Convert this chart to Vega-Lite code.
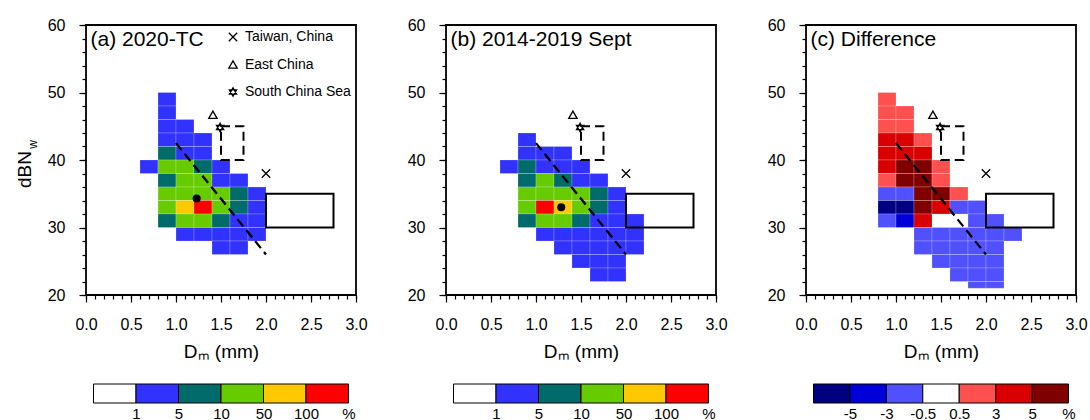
{
  "$schema": "https://vega.github.io/schema/vega-lite/v6.json",
  "background": "white",
  "padding": {"left": 14, "top": 16, "right": 0, "bottom": 0},
  "config": {
    "font": "Liberation Sans",
    "view": {"stroke": "black", "strokeWidth": 1.8},
    "axis": {"grid": false, "domain": false, "tickColor": "black", "tickWidth": 1.2, "labelColor": "black", "titleColor": "black", "labelFont": "Liberation Sans", "titleFont": "Liberation Sans", "labelFontSize": 16, "titleFontSize": 19, "titleFontWeight": "normal", "labelFlush": false, "labelOverlap": false},
    "text": {"font": "Liberation Sans", "color": "black"}
  },
  "datasets": {
    "a": [
      {"dm0":0.8,"dm1":1.0,"db0":48,"db1":50,"pct":3},
      {"dm0":0.8,"dm1":1.0,"db0":46,"db1":48,"pct":3},
      {"dm0":0.8,"dm1":1.0,"db0":44,"db1":46,"pct":3},
      {"dm0":1.0,"dm1":1.2,"db0":44,"db1":46,"pct":3},
      {"dm0":0.8,"dm1":1.0,"db0":42,"db1":44,"pct":3},
      {"dm0":1.0,"dm1":1.2,"db0":42,"db1":44,"pct":3},
      {"dm0":1.2,"dm1":1.4,"db0":42,"db1":44,"pct":3},
      {"dm0":0.8,"dm1":1.0,"db0":40,"db1":42,"pct":7},
      {"dm0":1.0,"dm1":1.2,"db0":40,"db1":42,"pct":3},
      {"dm0":1.2,"dm1":1.4,"db0":40,"db1":42,"pct":3},
      {"dm0":0.6,"dm1":0.8,"db0":38,"db1":40,"pct":3},
      {"dm0":0.8,"dm1":1.0,"db0":38,"db1":40,"pct":25},
      {"dm0":1.0,"dm1":1.2,"db0":38,"db1":40,"pct":25},
      {"dm0":1.2,"dm1":1.4,"db0":38,"db1":40,"pct":7},
      {"dm0":1.4,"dm1":1.6,"db0":38,"db1":40,"pct":3},
      {"dm0":0.8,"dm1":1.0,"db0":36,"db1":38,"pct":7},
      {"dm0":1.0,"dm1":1.2,"db0":36,"db1":38,"pct":25},
      {"dm0":1.2,"dm1":1.4,"db0":36,"db1":38,"pct":25},
      {"dm0":1.4,"dm1":1.6,"db0":36,"db1":38,"pct":3},
      {"dm0":1.6,"dm1":1.8,"db0":36,"db1":38,"pct":3},
      {"dm0":0.8,"dm1":1.0,"db0":34,"db1":36,"pct":25},
      {"dm0":1.0,"dm1":1.2,"db0":34,"db1":36,"pct":25},
      {"dm0":1.2,"dm1":1.4,"db0":34,"db1":36,"pct":25},
      {"dm0":1.4,"dm1":1.6,"db0":34,"db1":36,"pct":25},
      {"dm0":1.6,"dm1":1.8,"db0":34,"db1":36,"pct":7},
      {"dm0":1.8,"dm1":2.0,"db0":34,"db1":36,"pct":3},
      {"dm0":0.8,"dm1":1.0,"db0":32,"db1":34,"pct":25},
      {"dm0":1.0,"dm1":1.2,"db0":32,"db1":34,"pct":70},
      {"dm0":1.2,"dm1":1.4,"db0":32,"db1":34,"pct":120},
      {"dm0":1.4,"dm1":1.6,"db0":32,"db1":34,"pct":25},
      {"dm0":1.6,"dm1":1.8,"db0":32,"db1":34,"pct":7},
      {"dm0":1.8,"dm1":2.0,"db0":32,"db1":34,"pct":3},
      {"dm0":0.8,"dm1":1.0,"db0":30,"db1":32,"pct":7},
      {"dm0":1.0,"dm1":1.2,"db0":30,"db1":32,"pct":25},
      {"dm0":1.2,"dm1":1.4,"db0":30,"db1":32,"pct":25},
      {"dm0":1.4,"dm1":1.6,"db0":30,"db1":32,"pct":7},
      {"dm0":1.6,"dm1":1.8,"db0":30,"db1":32,"pct":3},
      {"dm0":1.8,"dm1":2.0,"db0":30,"db1":32,"pct":3},
      {"dm0":1.0,"dm1":1.2,"db0":28,"db1":30,"pct":3},
      {"dm0":1.2,"dm1":1.4,"db0":28,"db1":30,"pct":3},
      {"dm0":1.4,"dm1":1.6,"db0":28,"db1":30,"pct":3},
      {"dm0":1.6,"dm1":1.8,"db0":28,"db1":30,"pct":3},
      {"dm0":1.8,"dm1":2.0,"db0":28,"db1":30,"pct":3},
      {"dm0":1.4,"dm1":1.6,"db0":26,"db1":28,"pct":3},
      {"dm0":1.6,"dm1":1.8,"db0":26,"db1":28,"pct":3}
    ],
    "b": [
      {"dm0":0.8,"dm1":1.0,"db0":42,"db1":44,"pct":3},
      {"dm0":0.8,"dm1":1.0,"db0":40,"db1":42,"pct":3},
      {"dm0":1.0,"dm1":1.2,"db0":40,"db1":42,"pct":3},
      {"dm0":1.2,"dm1":1.4,"db0":40,"db1":42,"pct":3},
      {"dm0":0.6,"dm1":0.8,"db0":38,"db1":40,"pct":3},
      {"dm0":0.8,"dm1":1.0,"db0":38,"db1":40,"pct":7},
      {"dm0":1.0,"dm1":1.2,"db0":38,"db1":40,"pct":3},
      {"dm0":1.2,"dm1":1.4,"db0":38,"db1":40,"pct":3},
      {"dm0":1.4,"dm1":1.6,"db0":38,"db1":40,"pct":3},
      {"dm0":0.8,"dm1":1.0,"db0":36,"db1":38,"pct":7},
      {"dm0":1.0,"dm1":1.2,"db0":36,"db1":38,"pct":25},
      {"dm0":1.2,"dm1":1.4,"db0":36,"db1":38,"pct":7},
      {"dm0":1.4,"dm1":1.6,"db0":36,"db1":38,"pct":3},
      {"dm0":1.6,"dm1":1.8,"db0":36,"db1":38,"pct":3},
      {"dm0":0.8,"dm1":1.0,"db0":34,"db1":36,"pct":25},
      {"dm0":1.0,"dm1":1.2,"db0":34,"db1":36,"pct":25},
      {"dm0":1.2,"dm1":1.4,"db0":34,"db1":36,"pct":25},
      {"dm0":1.4,"dm1":1.6,"db0":34,"db1":36,"pct":25},
      {"dm0":1.6,"dm1":1.8,"db0":34,"db1":36,"pct":7},
      {"dm0":1.8,"dm1":2.0,"db0":34,"db1":36,"pct":3},
      {"dm0":0.8,"dm1":1.0,"db0":32,"db1":34,"pct":25},
      {"dm0":1.0,"dm1":1.2,"db0":32,"db1":34,"pct":120},
      {"dm0":1.2,"dm1":1.4,"db0":32,"db1":34,"pct":70},
      {"dm0":1.4,"dm1":1.6,"db0":32,"db1":34,"pct":25},
      {"dm0":1.6,"dm1":1.8,"db0":32,"db1":34,"pct":7},
      {"dm0":1.8,"dm1":2.0,"db0":32,"db1":34,"pct":3},
      {"dm0":0.8,"dm1":1.0,"db0":30,"db1":32,"pct":7},
      {"dm0":1.0,"dm1":1.2,"db0":30,"db1":32,"pct":25},
      {"dm0":1.2,"dm1":1.4,"db0":30,"db1":32,"pct":25},
      {"dm0":1.4,"dm1":1.6,"db0":30,"db1":32,"pct":7},
      {"dm0":1.6,"dm1":1.8,"db0":30,"db1":32,"pct":3},
      {"dm0":1.8,"dm1":2.0,"db0":30,"db1":32,"pct":3},
      {"dm0":2.0,"dm1":2.2,"db0":30,"db1":32,"pct":3},
      {"dm0":1.0,"dm1":1.2,"db0":28,"db1":30,"pct":3},
      {"dm0":1.2,"dm1":1.4,"db0":28,"db1":30,"pct":3},
      {"dm0":1.4,"dm1":1.6,"db0":28,"db1":30,"pct":3},
      {"dm0":1.6,"dm1":1.8,"db0":28,"db1":30,"pct":3},
      {"dm0":1.8,"dm1":2.0,"db0":28,"db1":30,"pct":3},
      {"dm0":2.0,"dm1":2.2,"db0":28,"db1":30,"pct":3},
      {"dm0":1.2,"dm1":1.4,"db0":26,"db1":28,"pct":3},
      {"dm0":1.4,"dm1":1.6,"db0":26,"db1":28,"pct":3},
      {"dm0":1.6,"dm1":1.8,"db0":26,"db1":28,"pct":3},
      {"dm0":1.8,"dm1":2.0,"db0":26,"db1":28,"pct":3},
      {"dm0":2.0,"dm1":2.2,"db0":26,"db1":28,"pct":3},
      {"dm0":1.4,"dm1":1.6,"db0":24,"db1":26,"pct":3},
      {"dm0":1.6,"dm1":1.8,"db0":24,"db1":26,"pct":3},
      {"dm0":1.8,"dm1":2.0,"db0":24,"db1":26,"pct":3},
      {"dm0":1.6,"dm1":1.8,"db0":22,"db1":24,"pct":3},
      {"dm0":1.8,"dm1":2.0,"db0":22,"db1":24,"pct":3}
    ],
    "c": [
      {"dm0":0.8,"dm1":1.0,"db0":48,"db1":50,"pct":1.5},
      {"dm0":0.8,"dm1":1.0,"db0":46,"db1":48,"pct":1.5},
      {"dm0":1.0,"dm1":1.2,"db0":46,"db1":48,"pct":1.5},
      {"dm0":0.8,"dm1":1.0,"db0":44,"db1":46,"pct":1.5},
      {"dm0":1.0,"dm1":1.2,"db0":44,"db1":46,"pct":1.5},
      {"dm0":0.8,"dm1":1.0,"db0":42,"db1":44,"pct":4},
      {"dm0":1.0,"dm1":1.2,"db0":42,"db1":44,"pct":4},
      {"dm0":1.2,"dm1":1.4,"db0":42,"db1":44,"pct":1.5},
      {"dm0":0.8,"dm1":1.0,"db0":40,"db1":42,"pct":4},
      {"dm0":1.0,"dm1":1.2,"db0":40,"db1":42,"pct":4},
      {"dm0":1.2,"dm1":1.4,"db0":40,"db1":42,"pct":4},
      {"dm0":0.8,"dm1":1.0,"db0":38,"db1":40,"pct":4},
      {"dm0":1.0,"dm1":1.2,"db0":38,"db1":40,"pct":6},
      {"dm0":1.2,"dm1":1.4,"db0":38,"db1":40,"pct":6},
      {"dm0":1.4,"dm1":1.6,"db0":38,"db1":40,"pct":1.5},
      {"dm0":0.8,"dm1":1.0,"db0":36,"db1":38,"pct":1.5},
      {"dm0":1.0,"dm1":1.2,"db0":36,"db1":38,"pct":6},
      {"dm0":1.2,"dm1":1.4,"db0":36,"db1":38,"pct":6},
      {"dm0":1.4,"dm1":1.6,"db0":36,"db1":38,"pct":1.5},
      {"dm0":0.8,"dm1":1.0,"db0":34,"db1":36,"pct":-1.5},
      {"dm0":1.0,"dm1":1.2,"db0":34,"db1":36,"pct":-1.5},
      {"dm0":1.2,"dm1":1.4,"db0":34,"db1":36,"pct":6},
      {"dm0":1.4,"dm1":1.6,"db0":34,"db1":36,"pct":6},
      {"dm0":1.6,"dm1":1.8,"db0":34,"db1":36,"pct":1.5},
      {"dm0":0.8,"dm1":1.0,"db0":32,"db1":34,"pct":-6},
      {"dm0":1.0,"dm1":1.2,"db0":32,"db1":34,"pct":-6},
      {"dm0":1.2,"dm1":1.4,"db0":32,"db1":34,"pct":6},
      {"dm0":1.4,"dm1":1.6,"db0":32,"db1":34,"pct":4},
      {"dm0":1.6,"dm1":1.8,"db0":32,"db1":34,"pct":-1.5},
      {"dm0":1.8,"dm1":2.0,"db0":32,"db1":34,"pct":-1.5},
      {"dm0":0.8,"dm1":1.0,"db0":30,"db1":32,"pct":-1.5},
      {"dm0":1.0,"dm1":1.2,"db0":30,"db1":32,"pct":-4},
      {"dm0":1.2,"dm1":1.4,"db0":30,"db1":32,"pct":4},
      {"dm0":1.8,"dm1":2.0,"db0":30,"db1":32,"pct":-1.5},
      {"dm0":2.0,"dm1":2.2,"db0":30,"db1":32,"pct":-1.5},
      {"dm0":1.2,"dm1":1.4,"db0":28,"db1":30,"pct":-1.5},
      {"dm0":1.4,"dm1":1.6,"db0":28,"db1":30,"pct":-1.5},
      {"dm0":1.6,"dm1":1.8,"db0":28,"db1":30,"pct":-1.5},
      {"dm0":1.8,"dm1":2.0,"db0":28,"db1":30,"pct":-1.5},
      {"dm0":2.0,"dm1":2.2,"db0":28,"db1":30,"pct":-1.5},
      {"dm0":2.2,"dm1":2.4,"db0":28,"db1":30,"pct":-1.5},
      {"dm0":1.2,"dm1":1.4,"db0":26,"db1":28,"pct":-1.5},
      {"dm0":1.4,"dm1":1.6,"db0":26,"db1":28,"pct":-1.5},
      {"dm0":1.6,"dm1":1.8,"db0":26,"db1":28,"pct":-1.5},
      {"dm0":1.8,"dm1":2.0,"db0":26,"db1":28,"pct":-1.5},
      {"dm0":2.0,"dm1":2.2,"db0":26,"db1":28,"pct":-1.5},
      {"dm0":1.4,"dm1":1.6,"db0":24,"db1":26,"pct":-1.5},
      {"dm0":1.6,"dm1":1.8,"db0":24,"db1":26,"pct":-1.5},
      {"dm0":1.8,"dm1":2.0,"db0":24,"db1":26,"pct":-1.5},
      {"dm0":2.0,"dm1":2.2,"db0":24,"db1":26,"pct":-1.5},
      {"dm0":1.6,"dm1":1.8,"db0":22,"db1":24,"pct":-1.5},
      {"dm0":1.8,"dm1":2.0,"db0":22,"db1":24,"pct":-1.5},
      {"dm0":2.0,"dm1":2.2,"db0":22,"db1":24,"pct":-1.5},
      {"dm0":1.8,"dm1":2.0,"db0":21,"db1":22,"pct":-1.5},
      {"dm0":2.0,"dm1":2.2,"db0":21,"db1":22,"pct":-1.5}
    ],
    "fitline": [{"dm": 1.0, "db": 42.5}, {"dm": 2.0, "db": 26.0}],
    "boxes": [
      {"region": "Taiwan, China", "dm0": 2.0, "dm1": 2.75, "db0": 30, "db1": 35},
      {"region": "East China", "dm0": 1.5, "dm1": 1.75, "db0": 40, "db1": 45}
    ],
    "sites": [
      {"site": "Taiwan, China", "dm": 2.0, "db": 38.0},
      {"site": "East China", "dm": 1.41, "db": 46.7},
      {"site": "South China Sea", "dm": 1.49, "db": 44.8}
    ],
    "dotA": [{"dm": 1.23, "db": 34.3}],
    "dotB": [{"dm": 1.28, "db": 33.0}],
    "barAB": [
      {"lo": 0, "hi": 1, "pct": 0.5},
      {"lo": 1, "hi": 2, "pct": 3},
      {"lo": 2, "hi": 3, "pct": 7},
      {"lo": 3, "hi": 4, "pct": 25},
      {"lo": 4, "hi": 5, "pct": 70},
      {"lo": 5, "hi": 6, "pct": 120}
    ],
    "barC": [
      {"lo": 0, "hi": 1, "pct": -6},
      {"lo": 1, "hi": 2, "pct": -4},
      {"lo": 2, "hi": 3, "pct": -1.5},
      {"lo": 3, "hi": 4, "pct": 0},
      {"lo": 4, "hi": 5, "pct": 1.5},
      {"lo": 5, "hi": 6, "pct": 4},
      {"lo": 6, "hi": 7, "pct": 6}
    ]
  },
  "columns": 3,
  "spacing": {"row": 89, "column": 90},
  "bounds": "flush",
  "resolve": {"scale": {"x": "independent", "y": "independent", "color": "independent", "shape": "independent"}, "legend": {"shape": "independent", "color": "independent"}},
  "concat": [
    {
      "width": 270, "height": 270,
      "layer": [
        {
          "data": {"name": "a"},
          "mark": {"type": "rect", "stroke": "white", "strokeWidth": 0.6, "strokeOpacity": 0.35},
          "encoding": {
            "x": {"field": "dm0", "type": "quantitative", "scale": {"domain": [0, 3], "nice": false, "zero": false}, "axis": {"orient": "bottom", "values": [0, 0.5, 1, 1.5, 2, 2.5, 3], "format": ".1f", "tickSize": 7, "labelPadding": 14, "title": "Dₘ (mm)", "titlePadding": 10}},
            "x2": {"field": "dm1"},
            "y": {"field": "db0", "type": "quantitative", "scale": {"domain": [20, 60], "nice": false, "zero": false}, "axis": {"orient": "left", "values": [20, 30, 40, 50, 60], "tickSize": 7, "labelPadding": 14, "title": "dBN", "titlePadding": 13, "titleY": 144}},
            "y2": {"field": "db1"},
            "color": {"field": "pct", "type": "quantitative", "scale": {"type": "threshold", "domain": [1, 5, 10, 50, 100], "range": ["#ffffff", "#3232ff", "#006b6b", "#66cc00", "#ffc800", "#ff0000"]}, "legend": null}
          }
        },
        {
          "data": {"name": "fitline"},
          "mark": {"type": "point", "opacity": 0},
          "encoding": {
            "x": {"field": "dm", "type": "quantitative", "axis": {"orient": "bottom", "values": [0,0.1,0.2,0.3,0.4,0.5,0.6,0.7,0.8,0.9,1,1.1,1.2,1.3,1.4,1.5,1.6,1.7,1.8,1.9,2,2.1,2.2,2.3,2.4,2.5,2.6,2.7,2.8,2.9,3], "tickSize": 4, "labels": false, "title": null}},
            "y": {"field": "db", "type": "quantitative", "axis": {"orient": "left", "values": [20,22,24,26,28,30,32,34,36,38,40,42,44,46,48,50,52,54,56,58,60], "tickSize": 4, "labels": false, "title": null}}
          }
        },
        {
          "data": {"name": "fitline"},
          "mark": {"type": "line", "color": "black", "strokeWidth": 2.3, "strokeDash": [9, 5]},
          "encoding": {
            "x": {"field": "dm", "type": "quantitative", "axis": null},
            "y": {"field": "db", "type": "quantitative", "axis": null}
          }
        },
        {
          "data": {"name": "boxes"},
          "transform": [{"filter": "datum.region === 'Taiwan, China'"}],
          "mark": {"type": "rect", "filled": false, "stroke": "black", "strokeWidth": 2},
          "encoding": {
            "x": {"field": "dm0", "type": "quantitative", "axis": null},
            "x2": {"field": "dm1"},
            "y": {"field": "db0", "type": "quantitative", "axis": null},
            "y2": {"field": "db1"}
          }
        },
        {
          "data": {"name": "boxes"},
          "transform": [{"filter": "datum.region === 'East China'"}],
          "mark": {"type": "rect", "filled": false, "stroke": "black", "strokeWidth": 2, "strokeDash": [9, 5]},
          "encoding": {
            "x": {"field": "dm0", "type": "quantitative", "axis": null},
            "x2": {"field": "dm1"},
            "y": {"field": "db0", "type": "quantitative", "axis": null},
            "y2": {"field": "db1"}
          }
        },
        {
          "data": {"name": "dotA"},
          "mark": {"type": "point", "filled": true, "color": "black", "opacity": 1, "size": 65},
          "encoding": {
            "x": {"field": "dm", "type": "quantitative", "axis": null},
            "y": {"field": "db", "type": "quantitative", "axis": null}
          }
        },
        {
          "data": {"name": "sites"},
          "mark": {"type": "point", "filled": false, "color": "black", "opacity": 1, "strokeWidth": 1.3, "size": 70},
          "encoding": {
            "x": {"field": "dm", "type": "quantitative", "axis": null},
            "y": {"field": "db", "type": "quantitative", "axis": null},
            "shape": {"field": "site", "type": "nominal", "scale": {"domain": ["Taiwan, China", "East China", "South China Sea"], "range": ["M-1,-1L1,1M-1,1L1,-1", "triangle-up", "M0,-1L0.866,0.5L-0.866,0.5ZM0,1L0.866,-0.5L-0.866,-0.5Z"]}, "legend": {"title": null, "orient": "top-right", "offset": 5, "padding": 0, "rowPadding": 13.5, "labelFontSize": 14, "labelFont": "Liberation Sans", "labelColor": "black", "labelOffset": 5, "symbolSize": 70, "symbolStrokeWidth": 1.3, "symbolStrokeColor": "black"}}
          }
        },
        {
          "data": {"values": [{"lab": "(a) 2020-TC"}]},
          "mark": {"type": "text", "align": "left", "baseline": "alphabetic", "fontSize": 21},
          "encoding": {
            "x": {"datum": 0.05, "type": "quantitative", "axis": null},
            "y": {"datum": 56.9, "type": "quantitative", "axis": null},
            "text": {"field": "lab"}
          }
        },
        {
          "data": {"values": [{"sub": "w"}]},
          "mark": {"type": "text", "align": "center", "baseline": "alphabetic", "angle": 270, "fontSize": 12},
          "encoding": {
            "x": {"datum": -0.55, "type": "quantitative", "axis": null},
            "y": {"datum": 42.3, "type": "quantitative", "axis": null},
            "text": {"field": "sub"}
          }
        }
      ],
      "resolve": {"axis": {"x": "independent", "y": "independent"}}
    },
    {
      "width": 270, "height": 270,
      "layer": [
        {
          "data": {"name": "b"},
          "mark": {"type": "rect", "stroke": "white", "strokeWidth": 0.6, "strokeOpacity": 0.35},
          "encoding": {
            "x": {"field": "dm0", "type": "quantitative", "scale": {"domain": [0, 3], "nice": false, "zero": false}, "axis": {"orient": "bottom", "values": [0, 0.5, 1, 1.5, 2, 2.5, 3], "format": ".1f", "tickSize": 7, "labelPadding": 14, "title": "Dₘ (mm)", "titlePadding": 10}},
            "x2": {"field": "dm1"},
            "y": {"field": "db0", "type": "quantitative", "scale": {"domain": [20, 60], "nice": false, "zero": false}, "axis": {"orient": "left", "values": [20, 30, 40, 50, 60], "tickSize": 7, "labelPadding": 14, "title": null}},
            "y2": {"field": "db1"},
            "color": {"field": "pct", "type": "quantitative", "scale": {"type": "threshold", "domain": [1, 5, 10, 50, 100], "range": ["#ffffff", "#3232ff", "#006b6b", "#66cc00", "#ffc800", "#ff0000"]}, "legend": null}
          }
        },
        {
          "data": {"name": "fitline"},
          "mark": {"type": "point", "opacity": 0},
          "encoding": {
            "x": {"field": "dm", "type": "quantitative", "axis": {"orient": "bottom", "values": [0,0.1,0.2,0.3,0.4,0.5,0.6,0.7,0.8,0.9,1,1.1,1.2,1.3,1.4,1.5,1.6,1.7,1.8,1.9,2,2.1,2.2,2.3,2.4,2.5,2.6,2.7,2.8,2.9,3], "tickSize": 4, "labels": false, "title": null}},
            "y": {"field": "db", "type": "quantitative", "axis": {"orient": "left", "values": [20,22,24,26,28,30,32,34,36,38,40,42,44,46,48,50,52,54,56,58,60], "tickSize": 4, "labels": false, "title": null}}
          }
        },
        {
          "data": {"name": "fitline"},
          "mark": {"type": "line", "color": "black", "strokeWidth": 2.3, "strokeDash": [9, 5]},
          "encoding": {
            "x": {"field": "dm", "type": "quantitative", "axis": null},
            "y": {"field": "db", "type": "quantitative", "axis": null}
          }
        },
        {
          "data": {"name": "boxes"},
          "transform": [{"filter": "datum.region === 'Taiwan, China'"}],
          "mark": {"type": "rect", "filled": false, "stroke": "black", "strokeWidth": 2},
          "encoding": {
            "x": {"field": "dm0", "type": "quantitative", "axis": null},
            "x2": {"field": "dm1"},
            "y": {"field": "db0", "type": "quantitative", "axis": null},
            "y2": {"field": "db1"}
          }
        },
        {
          "data": {"name": "boxes"},
          "transform": [{"filter": "datum.region === 'East China'"}],
          "mark": {"type": "rect", "filled": false, "stroke": "black", "strokeWidth": 2, "strokeDash": [9, 5]},
          "encoding": {
            "x": {"field": "dm0", "type": "quantitative", "axis": null},
            "x2": {"field": "dm1"},
            "y": {"field": "db0", "type": "quantitative", "axis": null},
            "y2": {"field": "db1"}
          }
        },
        {
          "data": {"name": "dotB"},
          "mark": {"type": "point", "filled": true, "color": "black", "opacity": 1, "size": 65},
          "encoding": {
            "x": {"field": "dm", "type": "quantitative", "axis": null},
            "y": {"field": "db", "type": "quantitative", "axis": null}
          }
        },
        {
          "data": {"name": "sites"},
          "mark": {"type": "point", "filled": false, "color": "black", "opacity": 1, "strokeWidth": 1.3, "size": 70},
          "encoding": {
            "x": {"field": "dm", "type": "quantitative", "axis": null},
            "y": {"field": "db", "type": "quantitative", "axis": null},
            "shape": {"field": "site", "type": "nominal", "scale": {"domain": ["Taiwan, China", "East China", "South China Sea"], "range": ["M-1,-1L1,1M-1,1L1,-1", "triangle-up", "M0,-1L0.866,0.5L-0.866,0.5ZM0,1L0.866,-0.5L-0.866,-0.5Z"]}, "legend": null}
          }
        },
        {
          "data": {"values": [{"lab": "(b) 2014-2019 Sept"}]},
          "mark": {"type": "text", "align": "left", "baseline": "alphabetic", "fontSize": 21},
          "encoding": {
            "x": {"datum": 0.05, "type": "quantitative", "axis": null},
            "y": {"datum": 56.9, "type": "quantitative", "axis": null},
            "text": {"field": "lab"}
          }
        }
      ],
      "resolve": {"axis": {"x": "independent", "y": "independent"}}
    },
    {
      "width": 270, "height": 270,
      "layer": [
        {
          "data": {"name": "c"},
          "mark": {"type": "rect", "stroke": "white", "strokeWidth": 0.6, "strokeOpacity": 0.35},
          "encoding": {
            "x": {"field": "dm0", "type": "quantitative", "scale": {"domain": [0, 3], "nice": false, "zero": false}, "axis": {"orient": "bottom", "values": [0, 0.5, 1, 1.5, 2, 2.5, 3], "format": ".1f", "tickSize": 7, "labelPadding": 14, "title": "Dₘ (mm)", "titlePadding": 10}},
            "x2": {"field": "dm1"},
            "y": {"field": "db0", "type": "quantitative", "scale": {"domain": [20, 60], "nice": false, "zero": false}, "axis": {"orient": "left", "values": [20, 30, 40, 50, 60], "tickSize": 7, "labelPadding": 14, "title": null}},
            "y2": {"field": "db1"},
            "color": {"field": "pct", "type": "quantitative", "scale": {"type": "threshold", "domain": [-5, -3, -0.5, 0.5, 3, 5], "range": ["#000080", "#0000d8", "#5050ff", "#ffffff", "#ff5050", "#d80000", "#800000"]}, "legend": null}
          }
        },
        {
          "data": {"name": "fitline"},
          "mark": {"type": "point", "opacity": 0},
          "encoding": {
            "x": {"field": "dm", "type": "quantitative", "axis": {"orient": "bottom", "values": [0,0.1,0.2,0.3,0.4,0.5,0.6,0.7,0.8,0.9,1,1.1,1.2,1.3,1.4,1.5,1.6,1.7,1.8,1.9,2,2.1,2.2,2.3,2.4,2.5,2.6,2.7,2.8,2.9,3], "tickSize": 4, "labels": false, "title": null}},
            "y": {"field": "db", "type": "quantitative", "axis": {"orient": "left", "values": [20,22,24,26,28,30,32,34,36,38,40,42,44,46,48,50,52,54,56,58,60], "tickSize": 4, "labels": false, "title": null}}
          }
        },
        {
          "data": {"name": "fitline"},
          "mark": {"type": "line", "color": "black", "strokeWidth": 2.3, "strokeDash": [9, 5]},
          "encoding": {
            "x": {"field": "dm", "type": "quantitative", "axis": null},
            "y": {"field": "db", "type": "quantitative", "axis": null}
          }
        },
        {
          "data": {"name": "boxes"},
          "transform": [{"filter": "datum.region === 'Taiwan, China'"}],
          "mark": {"type": "rect", "filled": false, "stroke": "black", "strokeWidth": 2},
          "encoding": {
            "x": {"field": "dm0", "type": "quantitative", "axis": null},
            "x2": {"field": "dm1"},
            "y": {"field": "db0", "type": "quantitative", "axis": null},
            "y2": {"field": "db1"}
          }
        },
        {
          "data": {"name": "boxes"},
          "transform": [{"filter": "datum.region === 'East China'"}],
          "mark": {"type": "rect", "filled": false, "stroke": "black", "strokeWidth": 2, "strokeDash": [9, 5]},
          "encoding": {
            "x": {"field": "dm0", "type": "quantitative", "axis": null},
            "x2": {"field": "dm1"},
            "y": {"field": "db0", "type": "quantitative", "axis": null},
            "y2": {"field": "db1"}
          }
        },
        {
          "data": {"name": "sites"},
          "mark": {"type": "point", "filled": false, "color": "black", "opacity": 1, "strokeWidth": 1.3, "size": 70},
          "encoding": {
            "x": {"field": "dm", "type": "quantitative", "axis": null},
            "y": {"field": "db", "type": "quantitative", "axis": null},
            "shape": {"field": "site", "type": "nominal", "scale": {"domain": ["Taiwan, China", "East China", "South China Sea"], "range": ["M-1,-1L1,1M-1,1L1,-1", "triangle-up", "M0,-1L0.866,0.5L-0.866,0.5ZM0,1L0.866,-0.5L-0.866,-0.5Z"]}, "legend": null}
          }
        },
        {
          "data": {"values": [{"lab": "(c) Difference"}]},
          "mark": {"type": "text", "align": "left", "baseline": "alphabetic", "fontSize": 21},
          "encoding": {
            "x": {"datum": 0.05, "type": "quantitative", "axis": null},
            "y": {"datum": 56.9, "type": "quantitative", "axis": null},
            "text": {"field": "lab"}
          }
        }
      ],
      "resolve": {"axis": {"x": "independent", "y": "independent"}}
    },
    {
      "width": 270, "height": 19,
      "view": {"stroke": null},
      "data": {"name": "barAB"},
      "mark": {"type": "rect", "stroke": "black", "strokeWidth": 1},
      "encoding": {
        "x": {"field": "lo", "type": "quantitative", "scale": {"domain": [0, 6], "nice": false, "zero": false, "padding": 7.5}, "axis": {"values": [1, 2, 3, 4, 5, 6], "labelExpr": "['','1','5','10','50','100','%'][datum.value]", "ticks": false, "domain": false, "labelPadding": 3, "labelFontSize": 15, "title": null}},
        "x2": {"field": "hi"},
        "y": {"datum": 0, "type": "quantitative", "scale": {"domain": [0, 1]}, "axis": null},
        "y2": {"datum": 1},
        "color": {"field": "pct", "type": "quantitative", "scale": {"type": "threshold", "domain": [1, 5, 10, 50, 100], "range": ["#ffffff", "#3232ff", "#006b6b", "#66cc00", "#ffc800", "#ff0000"]}, "legend": null}
      }
    },
    {
      "width": 270, "height": 19,
      "view": {"stroke": null},
      "data": {"name": "barAB"},
      "mark": {"type": "rect", "stroke": "black", "strokeWidth": 1},
      "encoding": {
        "x": {"field": "lo", "type": "quantitative", "scale": {"domain": [0, 6], "nice": false, "zero": false, "padding": 7.5}, "axis": {"values": [1, 2, 3, 4, 5, 6], "labelExpr": "['','1','5','10','50','100','%'][datum.value]", "ticks": false, "domain": false, "labelPadding": 3, "labelFontSize": 15, "title": null}},
        "x2": {"field": "hi"},
        "y": {"datum": 0, "type": "quantitative", "scale": {"domain": [0, 1]}, "axis": null},
        "y2": {"datum": 1},
        "color": {"field": "pct", "type": "quantitative", "scale": {"type": "threshold", "domain": [1, 5, 10, 50, 100], "range": ["#ffffff", "#3232ff", "#006b6b", "#66cc00", "#ffc800", "#ff0000"]}, "legend": null}
      }
    },
    {
      "width": 270, "height": 19,
      "view": {"stroke": null},
      "data": {"name": "barC"},
      "mark": {"type": "rect", "stroke": "black", "strokeWidth": 1},
      "encoding": {
        "x": {"field": "lo", "type": "quantitative", "scale": {"domain": [0, 7], "nice": false, "zero": false, "padding": 7.5}, "axis": {"values": [1, 2, 3, 4, 5, 6, 7], "labelExpr": "['','-5','-3','-0.5','0.5','3','5','%'][datum.value]", "ticks": false, "domain": false, "labelPadding": 3, "labelFontSize": 15, "title": null}},
        "x2": {"field": "hi"},
        "y": {"datum": 0, "type": "quantitative", "scale": {"domain": [0, 1]}, "axis": null},
        "y2": {"datum": 1},
        "color": {"field": "pct", "type": "quantitative", "scale": {"type": "threshold", "domain": [-5, -3, -0.5, 0.5, 3, 5], "range": ["#000080", "#0000d8", "#5050ff", "#ffffff", "#ff5050", "#d80000", "#800000"]}, "legend": null}
      }
    }
  ]
}
